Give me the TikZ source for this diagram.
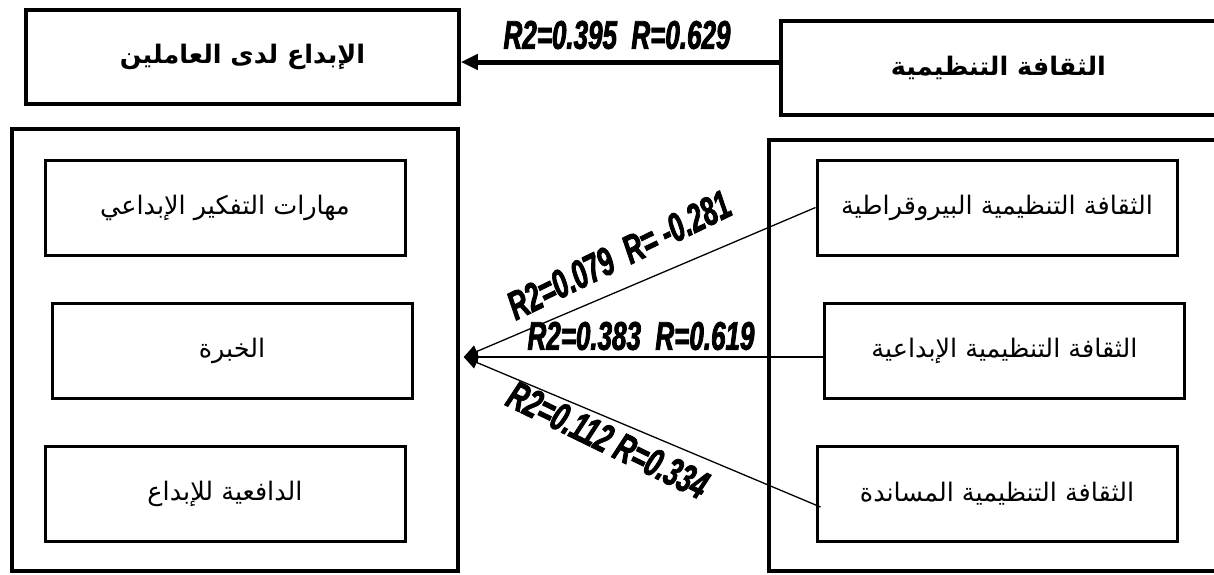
\documentclass[tikz,border=0pt]{standalone}
\usepackage{fontspec}
\usetikzlibrary{arrows.meta,calc}
\TeXXeTstate=1
\newfontfamily\arabicfont[Script=Arabic]{DejaVu Sans}
\newfontfamily\corrfont{Liberation Sans}[FakeStretch=0.65,FakeBold=2]
\newcommand{\artext}[1]{\arabicfont\beginR #1\endR}
\newcommand{\corr}[1]{{\corrfont\bfseries\itshape\fontsize{40}{44}\selectfont #1}}

\begin{document}
\begin{tikzpicture}[x=1pt,y=-1pt,
    topbox/.style={draw, line width=3.5pt, minimum width=433pt, minimum height=94pt, font=\bfseries\fontsize{25.5}{30}\selectfont},
    frame/.style={draw, line width=3.5pt},
    itembox/.style={draw, line width=3pt, minimum width=360pt, minimum height=95pt, font=\fontsize{25.5}{30}\selectfont},
    link/.style={line width=1.3pt},
    corrlabel/.style={inner sep=0pt}]
    \useasboundingbox (0,0) rectangle (1214,574);
    % dependent and independent variable
    \node[topbox] (creativity) at (242.5,57) {\artext{الإبداع لدى العاملين}};
    \node[topbox, minimum width=435pt] (culture) at (998.5,68) {\artext{الثقافة التنظيمية}};
    % the two frames
    \node[frame, minimum width=446pt, minimum height=442pt] (creativityframe) at (235,350) {};
    \node[frame, minimum width=447pt, minimum height=431pt] (cultureframe) at (992.5,355.5) {};
    % dimensions of creativity
    \node[itembox] (skills) at (225,207.5) {\artext{مهارات التفكير الإبداعي}};
    \node[itembox] (experience) at (232,350.5) {\artext{الخبرة}};
    \node[itembox] (motivation) at (225,493.5) {\artext{الدافعية للإبداع}};
    % types of culture
    \node[itembox] (bureau) at (997,207.5) {\artext{الثقافة التنظيمية البيروقراطية}};
    \node[itembox] (innov) at (1004.5,351) {\artext{الثقافة التنظيمية الإبداعية}};
    \node[itembox] (support) at (997,493.5) {\artext{الثقافة التنظيمية المساندة}};
    \coordinate (hub) at ($(creativityframe.east)+(4,7)$);
    % arrows
    \draw[line width=5pt, -{Triangle[length=17pt,width=15pt]}] ($(culture.west)+(0,-6)$) -- ($(creativity.east)+(0,5)$);
    \draw[link, -{Triangle[length=14pt,width=13pt]}] (bureau.west) -- (hub);
    \draw[link, -{Triangle[length=14pt,width=13pt]}] (innov.west |- hub) -- (hub);
    \draw[link, -{Triangle[length=14pt,width=13pt]}] ($(support.west)+(5,13.5)$) -- (hub);
    % correlation values
    \node[corrlabel] (r0) at (617,35) {\corr{R2=0.395\ \ R=0.629}};
    \node[corrlabel, rotate=26] (r1) at (619,255) {\corr{R2=0.079\ \ R= -0.281}};
    \node[corrlabel] (r2) at (641,336) {\corr{R2=0.383\ \ R=0.619}};
    \node[corrlabel, rotate=-26] (r3) at (608,440) {\corr{R2=0.112 R=0.334}};
\end{tikzpicture}
\end{document}
